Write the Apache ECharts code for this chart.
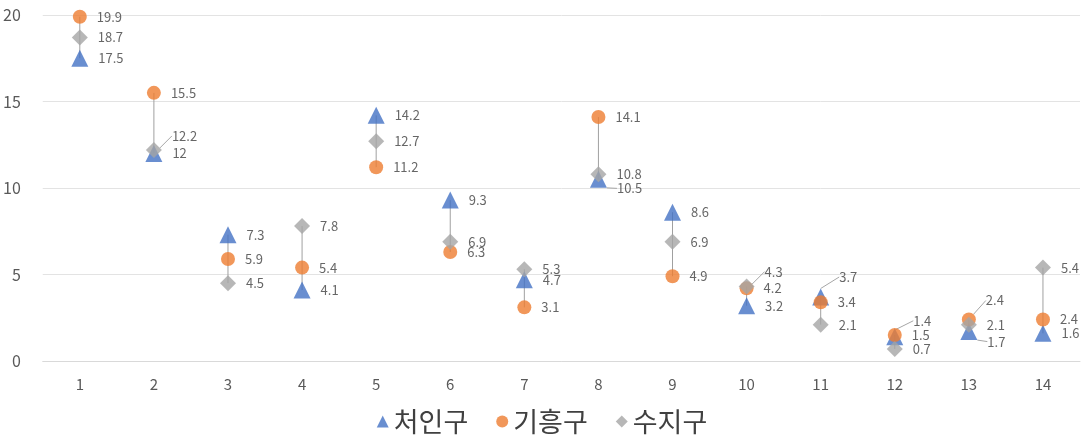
<!DOCTYPE html>
<html><head><meta charset="utf-8">
<script src="https://cdn.jsdelivr.net/npm/echarts@6/dist/echarts.min.js"></script>
<style>html,body{margin:0;padding:0;background:#fff}#c{width:1084px;height:438px}</style>
</head><body><div id="c"></div>
<script>
const categories = ['1','2','3','4','5','6','7','8','9','10','11','12','13','14'];
const cheoin = [17.5, 12, 7.3, 4.1, 14.2, 9.3, 4.7, 10.5, 8.6, 3.2, 3.7, 1.4, 1.7, 1.6];
const giheung = [19.9, 15.5, 5.9, 5.4, 11.2, 6.3, 3.1, 14.1, 4.9, 4.2, 3.4, 1.5, 2.4, 2.4];
const suji = [18.7, 12.2, 4.5, 7.8, 12.7, 6.9, 5.3, 10.8, 6.9, 4.3, 2.1, 0.7, 2.1, 5.4];
const seriesNames = ['처인구', '기흥구', '수지구'];
const yTicks = [0, 5, 10, 15, 20];

// label nudges (pixels) to mimic the reference label placement: [seriesIndex][dataIndex] -> dy
const labelNudge = {
  1: {7: 9, 10: -20, 11: -16, 12: 10},
  2: {12: -19},
  3: {1: -14, 9: -15}
};

const hiLo = categories.map((c, i) => {
  const v = [cheoin[i], giheung[i], suji[i]];
  return [i, Math.min(...v), Math.max(...v)];
});

const labelCfg = {show: true, position: 'right', distance: 10, color: '#404040', fontSize: 13, fontFamily: 'Noto Sans CJK KR'};

function items(arr, sIdx) {
  const n = labelNudge[sIdx] || {};
  return arr.map((v, i) => n[i] !== undefined ? {value: v, labelLine: {show: true}} : v);
}
function layoutFn(p) {
  const n = labelNudge[p.seriesIndex] || {};
  return n[p.dataIndex] !== undefined ? {dy: n[p.dataIndex]} : {};
}

const legendText = {fontSize: 27, color: '#404040', fontFamily: 'Noto Sans CJK KR'};

const chart = echarts.init(document.getElementById('c'), null, {renderer: 'canvas'});
chart.setOption({
  animation: false,
  textStyle: {fontFamily: 'Noto Sans CJK KR'},
  grid: {left: 42, right: 4, top: 15, bottom: 77},
  legend: {
    bottom: -2, left: 'center', itemGap: 28, itemWidth: 12, itemHeight: 12,
    textStyle: legendText,
    data: [
      {name: seriesNames[0], icon: 'triangle', textStyle: legendText},
      {name: seriesNames[1], icon: 'circle', textStyle: legendText},
      {name: seriesNames[2], icon: 'diamond', textStyle: legendText}
    ]
  },
  xAxis: {
    type: 'category', data: categories, boundaryGap: true,
    axisLine: {lineStyle: {color: '#d9d9d9'}}, axisTick: {show: false},
    axisLabel: {color: '#595959', fontSize: 15, margin: 16}
  },
  yAxis: {
    type: 'value', min: 0, max: 20, interval: 5,
    axisLine: {show: false}, axisTick: {show: false},
    splitLine: {lineStyle: {color: '#e3e3e3'}},
    axisLabel: {color: '#595959', fontSize: 16, margin: 22,
      formatter: v => yTicks.includes(v) ? String(v) : ''}
  },
  series: [
    {
      type: 'custom', name: 'hilo', silent: true, z: 1,
      data: hiLo,
      renderItem: (params, api) => {
        const p1 = api.coord([api.value(0), api.value(1)]);
        const p2 = api.coord([api.value(0), api.value(2)]);
        return {type: 'line', shape: {x1: p1[0], y1: p1[1], x2: p2[0], y2: p2[1]},
          style: {stroke: '#a0a0a0', lineWidth: 1}};
      }
    },
    {name: seriesNames[0], type: 'scatter', data: items(cheoin, 1), symbol: 'triangle', symbolSize: 17,
      itemStyle: {color: '#4472C4'}, label: labelCfg, z: 2,
      labelLayout: layoutFn, labelLine: {show: false, lineStyle: {color: '#a6a6a6'}}},
    {name: seriesNames[1], type: 'scatter', data: items(giheung, 2), symbol: 'circle', symbolSize: 14,
      itemStyle: {color: '#ED7D31'}, label: labelCfg, z: 3,
      labelLayout: layoutFn, labelLine: {show: false, lineStyle: {color: '#a6a6a6'}}},
    {name: seriesNames[2], type: 'scatter', data: items(suji, 3), symbol: 'diamond', symbolSize: 16,
      itemStyle: {color: '#A5A5A5'}, label: labelCfg, z: 4,
      labelLayout: layoutFn, labelLine: {show: false, lineStyle: {color: '#a6a6a6'}}}
  ]
});
</script></body></html>
